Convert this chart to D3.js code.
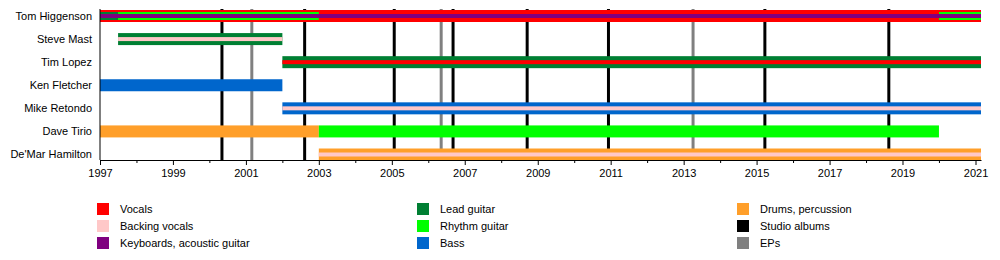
<!DOCTYPE html>
<html>
<head>
<meta charset="utf-8">
<script src="https://cdn.jsdelivr.net/npm/d3@7"></script>
<style>
  body { margin: 0; background: #fff; }
  svg { display: block; font-family: "Liberation Sans", Arial, sans-serif; }
</style>
</head>
<body>
<div id="chart"></div>
<script>
// Band members, top to bottom
const members = ["Tom Higgenson", "Steve Mast", "Tim Lopez", "Ken Fletcher", "Mike Retondo", "Dave Tirio", "De'Mar Hamilton"];

// Roles and their colours (legend order)
const roles = ["Vocals", "Backing vocals", "Keyboards, acoustic guitar", "Lead guitar", "Rhythm guitar", "Bass", "Drums, percussion"];
const roleColors = ["#ff0000", "#ffc8c8", "#800080", "#007f33", "#00ff00", "#0066cc", "#ff9f2a"];

// Release markers
const studioAlbums = ["2000-05-06", "2002-08-12", "2005-01-25", "2006-09-06", "2008-09-17", "2010-12-10", "2015-03-25", "2018-08-17"];
const eps = ["2001-03-01", "2006-05-10", "2013-04-05"];

// Axis ticks
const majorYears = [1997, 1999, 2001, 2003, 2005, 2007, 2009, 2011, 2013, 2015, 2017, 2019, 2021];
const minorYears = [1998, 2000, 2002, 2004, 2006, 2008, 2010, 2012, 2014, 2016, 2018, 2020];

const timelineStart = "1997-01-01";
const timelineEnd = "2021-02-25";

// Membership periods: member, role, from, to, tier (0 = main role, 1 = second, 2 = third)
const periods = [
  ["Tom Higgenson", "Vocals", "1997-01-01", timelineEnd, 0],
  ["Tom Higgenson", "Lead guitar", "1997-01-01", "1997-07-01", 1],
  ["Tom Higgenson", "Rhythm guitar", "1997-07-01", "2003-01-01", 1],
  ["Tom Higgenson", "Rhythm guitar", "2020-01-01", timelineEnd, 1],
  ["Tom Higgenson", "Keyboards, acoustic guitar", "1997-01-01", timelineEnd, 2],
  ["Steve Mast", "Lead guitar", "1997-07-01", "2002-01-01", 0],
  ["Steve Mast", "Backing vocals", "1997-07-01", "2002-01-01", 2],
  ["Tim Lopez", "Lead guitar", "2002-01-01", timelineEnd, 0],
  ["Tim Lopez", "Vocals", "2002-01-01", timelineEnd, 2],
  ["Ken Fletcher", "Bass", "1997-01-01", "2002-01-01", 0],
  ["Mike Retondo", "Bass", "2002-01-01", timelineEnd, 0],
  ["Mike Retondo", "Backing vocals", "2002-01-01", timelineEnd, 2],
  ["Dave Tirio", "Drums, percussion", "1997-01-01", "2003-01-01", 0],
  ["Dave Tirio", "Rhythm guitar", "2003-01-01", "2020-01-01", 0],
  ["De'Mar Hamilton", "Drums, percussion", "2003-01-01", timelineEnd, 0],
  ["De'Mar Hamilton", "Backing vocals", "2003-01-01", timelineEnd, 2]
];

const legendItems = roles.concat(["Studio albums", "EPs"]);
const legendColors = roleColors.concat(["#000000", "#808080"]);

const width = 1000, height = 260;
const parse = d3.timeParse("%Y-%m-%d");
const yearDate = yr => new Date(yr, 0, 1);
const tierHeight = [12, 8, 4];

const svg = d3.select("#chart").append("svg")
    .attr("width", width)
    .attr("height", height);

const x = d3.scaleTime()
    .domain([parse(timelineStart), parse(timelineEnd)])
    .range([100, 981]);

const y = d3.scalePoint()
    .domain(members)
    .range([16, 154.5]);

const color = d3.scaleOrdinal().domain(legendItems).range(legendColors);

const plotTop = 9, axisY = 160;

// ===== release lines (behind bars) =====
svg.append("g").selectAll("line.ep")
    .data(eps)
    .join("line")
    .attr("x1", d => x(parse(d))).attr("x2", d => x(parse(d)))
    .attr("y1", plotTop).attr("y2", axisY)
    .attr("stroke", color("EPs"))
    .attr("stroke-width", 3);

svg.append("g").selectAll("line.album")
    .data(studioAlbums)
    .join("line")
    .attr("x1", d => x(parse(d))).attr("x2", d => x(parse(d)))
    .attr("y1", plotTop).attr("y2", axisY)
    .attr("stroke", color("Studio albums"))
    .attr("stroke-width", 3);

// ===== member bars =====
const sorted = periods.slice().sort((a, b) => a[4] - b[4]);
svg.append("g").selectAll("rect")
    .data(sorted)
    .join("rect")
    .attr("x", d => x(parse(d[2])))
    .attr("width", d => x(parse(d[3])) - x(parse(d[2])))
    .attr("y", d => y(d[0]) - tierHeight[d[4]] / 2)
    .attr("height", d => tierHeight[d[4]])
    .attr("fill", d => color(d[1]));

// ===== member names =====
svg.append("g").selectAll("text")
    .data(members)
    .join("text")
    .attr("x", 92)
    .attr("y", d => y(d))
    .attr("dy", "0.35em")
    .attr("text-anchor", "end")
    .style("font-size", "11px")
    .text(d => d);

// ===== axes =====
svg.append("line")
    .attr("x1", 100).attr("x2", 100)
    .attr("y1", plotTop).attr("y2", axisY)
    .attr("stroke", "#000");

const minor = svg.append("g")
    .attr("transform", `translate(0,${axisY})`)
    .call(d3.axisBottom(x).tickValues(minorYears.map(yearDate)).tickSize(3).tickSizeOuter(0).tickFormat(""));
minor.select(".domain").remove();

const major = svg.append("g")
    .attr("transform", `translate(0,${axisY})`)
    .call(d3.axisBottom(x)
        .tickValues(majorYears.map(yearDate))
        .tickSize(5)
        .tickSizeOuter(0)
        .tickFormat(d3.timeFormat("%Y")));
major.selectAll("text")
    .attr("y", 9)
    .style("font-size", "11px")
    .style("font-family", "'Liberation Sans', Arial, sans-serif")
    .attr("fill", "#000");

// ===== legend =====
const legend = svg.append("g");
legendItems.forEach((item, i) => {
    const col = Math.floor(i / 3), row = i % 3;
    const g = legend.append("g")
        .attr("transform", `translate(${97 + col * 320}, ${203 + row * 17})`);
    g.append("rect")
        .attr("width", 12)
        .attr("height", 12)
        .attr("fill", color(item));
    g.append("text")
        .attr("x", 23)
        .attr("y", 6)
        .attr("dy", "0.35em")
        .style("font-size", "11px")
        .text(item);
});
</script>
</body>
</html>
